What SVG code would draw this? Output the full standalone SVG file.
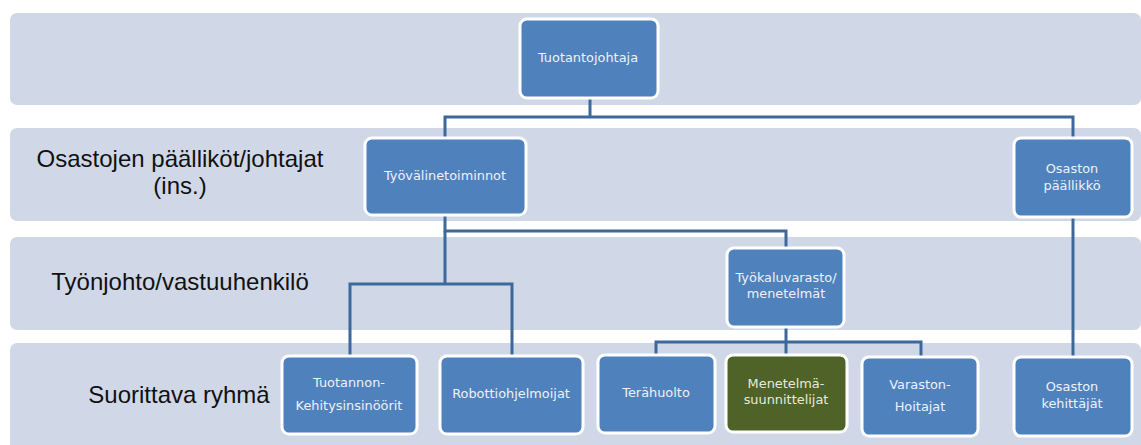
<svg xmlns="http://www.w3.org/2000/svg" width="1141" height="445" viewBox="0 0 1141 445">
  <style>
    .band { fill: #d0d8e8; }
    .lvl { font-family: "Liberation Sans", Arial, sans-serif; font-size: 24px; fill: #111; text-anchor: middle; }
    .box { fill: #4f81bd; stroke: #ffffff; stroke-width: 3; }
    .box.green { fill: #4f6228; }
    .lbl { font-family: "DejaVu Sans", Verdana, sans-serif; font-size: 12.9px; fill: #eef2f8; text-anchor: middle; }
    .lbl.green { fill: #e6ebd6; }
    .wire { fill: none; stroke: #3d6899; stroke-width: 3; }
  </style>

  <!-- level bands -->
  <g id="bands">
    <rect class="band" x="10" y="13" width="1131" height="92" rx="7"/>
    <rect class="band" x="10" y="128" width="1131" height="93" rx="7"/>
    <rect class="band" x="10" y="237" width="1131" height="93" rx="7"/>
    <rect class="band" x="10" y="343" width="1131" height="110" rx="7"/>
    <text class="lvl" x="180" y="167">Osastojen päälliköt/johtajat</text>
    <text class="lvl" x="180" y="194">(ins.)</text>
    <text class="lvl" x="180" y="290">Työnjohto/vastuuhenkilö</text>
    <text class="lvl" x="179" y="403">Suorittava ryhmä</text>
  </g>

  <!-- connectors -->
  <g id="connectors">
    <polyline class="wire" points="590,97 590,117"/>
    <polyline class="wire" points="445,137 445,117 1073,117 1073,137"/>
    <polyline class="wire" points="445,215 445,231 786,231 786,247"/>
    <polyline class="wire" points="350,355 350,284 512,284 512,355"/>
    <polyline class="wire" points="445,231 445,284"/>
    <polyline class="wire" points="786,327 786,342"/>
    <polyline class="wire" points="656,354 656,342 921,342 921,356"/>
    <polyline class="wire" points="786,342 786,354"/>
    <polyline class="wire" points="1073,217 1073,356"/>
  </g>

  <g id="tuotantojohtaja">
    <rect class="box" x="520" y="19" width="138" height="79" rx="7"/>
    <text class="lbl" x="588" y="62">Tuotantojohtaja</text>
  </g>

  <g id="tyovalinetoiminnot">
    <rect class="box" x="365" y="138" width="161" height="77" rx="7"/>
    <text class="lbl" x="445" y="180">Työvälinetoiminnot</text>
  </g>

  <g id="osaston-paallikko">
    <rect class="box" x="1014" y="138" width="118" height="79" rx="7"/>
    <text class="lbl" x="1072" y="173">Osaston</text>
    <text class="lbl" x="1072" y="190">päällikkö</text>
  </g>

  <g id="tyokaluvarasto">
    <rect class="box" x="727" y="248" width="117" height="79" rx="7"/>
    <text class="lbl" x="786" y="282">Työkaluvarasto/</text>
    <text class="lbl" x="786" y="298">menetelmät</text>
  </g>

  <g id="kehitysinsinoorit">
    <rect class="box" x="282" y="356" width="135" height="78" rx="7"/>
    <text class="lbl" x="349" y="387">Tuotannon-</text>
    <text class="lbl" x="349" y="410">Kehitysinsinöörit</text>
  </g>

  <g id="robottiohjelmoijat">
    <rect class="box" x="440" y="356" width="143" height="78" rx="7"/>
    <text class="lbl" x="511" y="398">Robottiohjelmoijat</text>
  </g>

  <g id="terahuolto">
    <rect class="box" x="598" y="355" width="117" height="78" rx="7"/>
    <text class="lbl" x="656" y="397">Terähuolto</text>
  </g>

  <g id="menetelmasuunnittelijat">
    <rect class="box green" x="726" y="355" width="121" height="77" rx="7"/>
    <text class="lbl green" x="786" y="388">Menetelmä-</text>
    <text class="lbl green" x="786" y="404">suunnittelijat</text>
  </g>

  <g id="varastonhoitajat">
    <rect class="box" x="862" y="357" width="116" height="79" rx="7"/>
    <text class="lbl" x="920" y="389">Varaston-</text>
    <text class="lbl" x="920" y="411">Hoitajat</text>
  </g>

  <g id="osaston-kehittajat">
    <rect class="box" x="1014" y="357" width="118" height="79" rx="7"/>
    <text class="lbl" x="1072" y="391">Osaston</text>
    <text class="lbl" x="1072" y="408">kehittäjät</text>
  </g>
</svg>
